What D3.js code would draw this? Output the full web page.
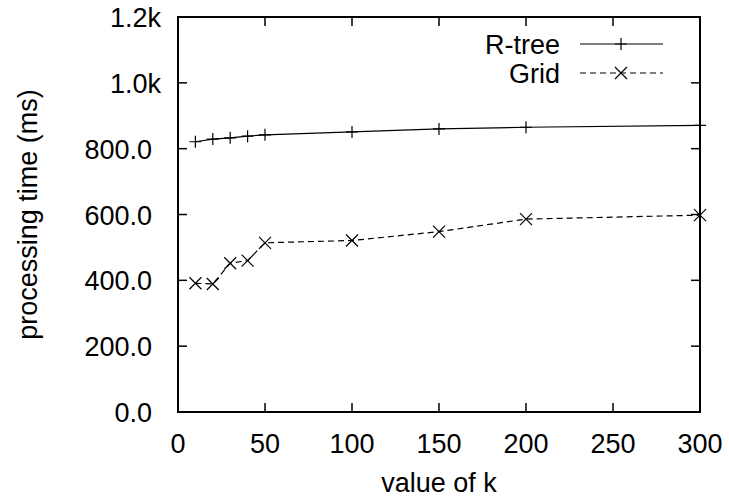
<!DOCTYPE html>
<html>
<head>
<meta charset="utf-8">
<script src="https://cdn.jsdelivr.net/npm/d3@7.9.0/dist/d3.min.js"></script>
<style>
  body { margin: 0; background: #fff; }
  svg { display: block; font-family: "Liberation Sans", Arial, sans-serif; }
</style>
</head>
<body>
<svg id="chart" width="729" height="502"></svg>
<script>
const kValues = [10, 20, 30, 40, 50, 100, 150, 200, 300];
const rtreeTimes = [821, 829, 833, 838, 842, 851, 860, 865, 871];
const gridTimes = [391, 389, 452, 460, 514, 521, 548, 586, 598];
const xTicks = [0, 50, 100, 150, 200, 250, 300];
const yTicks = [0, 200, 400, 600, 800, 1000, 1200];
const yTickLabels = ['0.0', '200.0', '400.0', '600.0', '800.0', '1.0k', '1.2k'];

const margin = { left: 178, right: 29, top: 17, bottom: 90 };
const width = 729, height = 502;
const fontSize = 27;

const svg = d3.select('#chart');

const x = d3.scaleLinear().domain([0, 300]).range([margin.left, width - margin.right]);
const y = d3.scaleLinear().domain([0, 1200]).range([height - margin.bottom, margin.top]);

const tickLen = 9;

// ticks on all four sides, pointing inward
const axes = svg.append('g').attr('stroke', '#000').attr('stroke-width', 1.5);
xTicks.forEach((t) => {
  axes.append('line').attr('x1', x(t)).attr('x2', x(t))
    .attr('y1', y(0)).attr('y2', y(0) - tickLen);
  axes.append('line').attr('x1', x(t)).attr('x2', x(t))
    .attr('y1', y(1200)).attr('y2', y(1200) + tickLen);
});
yTicks.forEach((t) => {
  axes.append('line').attr('x1', x(0)).attr('x2', x(0) + tickLen)
    .attr('y1', y(t)).attr('y2', y(t));
  axes.append('line').attr('x1', x(300)).attr('x2', x(300) - tickLen)
    .attr('y1', y(t)).attr('y2', y(t));
});

svg.append('rect')
  .attr('x', x(0)).attr('y', y(1200))
  .attr('width', x(300) - x(0)).attr('height', y(0) - y(1200))
  .attr('fill', 'none').attr('stroke', '#000').attr('stroke-width', 2);

// tick labels
svg.append('g').selectAll('text').data(xTicks).join('text')
  .attr('x', (d) => x(d)).attr('y', 453)
  .attr('text-anchor', 'middle').attr('font-size', fontSize)
  .text((d) => d);

svg.append('g').selectAll('text').data(yTicks).join('text')
  .attr('x', (d, i) => yTickLabels[i].endsWith('k') ? 161 : 152)
  .attr('y', (d) => y(d) + 10)
  .attr('text-anchor', 'end').attr('font-size', fontSize)
  .text((d, i) => yTickLabels[i]);

// axis titles
svg.append('text')
  .attr('x', (x(0) + x(300)) / 2).attr('y', 492)
  .attr('text-anchor', 'middle').attr('font-size', fontSize)
  .text('value of k');

svg.append('text')
  .attr('transform', `translate(37,${(y(0) + y(1200)) / 2}) rotate(-90)`)
  .attr('text-anchor', 'middle').attr('font-size', fontSize)
  .text('processing time (ms)');

// series
const line = d3.line().x((d) => x(d[0])).y((d) => y(d[1]));
const rtreeData = kValues.map((k, i) => [k, rtreeTimes[i]]);
const gridData = kValues.map((k, i) => [k, gridTimes[i]]);

function plus(g, cx, cy, s) {
  g.append('path').attr('d', `M${cx - s},${cy}H${cx + s}M${cx},${cy - s}V${cy + s}`)
    .attr('stroke', '#000').attr('stroke-width', 1.2).attr('fill', 'none');
}
function cross(g, cx, cy, s) {
  g.append('path').attr('d', `M${cx - s},${cy - s}L${cx + s},${cy + s}M${cx - s},${cy + s}L${cx + s},${cy - s}`)
    .attr('stroke', '#000').attr('stroke-width', 1.2).attr('fill', 'none');
}

svg.append('path').datum(rtreeData)
  .attr('d', line).attr('fill', 'none').attr('stroke', '#000').attr('stroke-width', 1.2);
svg.append('path').datum(gridData)
  .attr('d', line).attr('fill', 'none').attr('stroke', '#000').attr('stroke-width', 1.2)
  .attr('stroke-dasharray', '6,4');

const marks = svg.append('g');
rtreeData.forEach((d) => plus(marks, x(d[0]), y(d[1]), 6));
gridData.forEach((d) => cross(marks, x(d[0]), y(d[1]), 6));

// legend
const legend = svg.append('g');
const legendItems = [
  { label: 'R-tree', y: 44, dash: null, mark: plus },
  { label: 'Grid', y: 73, dash: '6,4', mark: cross }
];
legendItems.forEach((it) => {
  legend.append('text').attr('x', 560).attr('y', it.y + 10)
    .attr('text-anchor', 'end').attr('font-size', fontSize).text(it.label);
  legend.append('line').attr('x1', 580).attr('x2', 663)
    .attr('y1', it.y).attr('y2', it.y)
    .attr('stroke', '#000').attr('stroke-width', 1.2)
    .attr('stroke-dasharray', it.dash);
  it.mark(legend, 621, it.y, 6);
});
</script>
</body>
</html>
